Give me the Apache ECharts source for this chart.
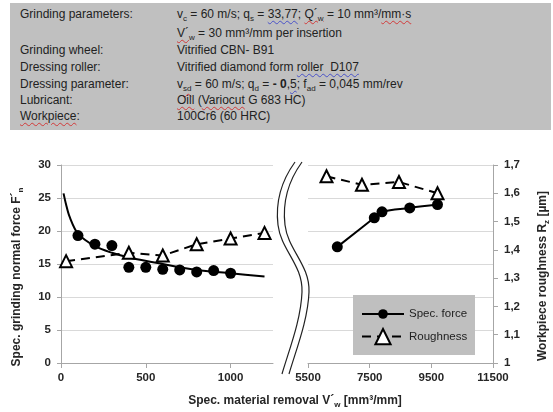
<!DOCTYPE html>
<html>
<head>
<meta charset="utf-8">
<script src="https://cdn.jsdelivr.net/npm/echarts@6/dist/echarts.min.js"></script>
<style>
  html, body { margin: 0; padding: 0; background: #fff; }
  #chart { position: absolute; left: 0; top: 0; width: 553px; height: 412px; }
  #params {
    position: absolute; left: 10px; top: 3px; width: 541px; height: 127px;
    background: #c0c0c0; z-index: 2;
    font-family: "Liberation Sans", Arial, sans-serif; font-size: 12px; color: #222;
  }
  .row { position: absolute; left: 0; width: 100%; height: 16px; line-height: 16px; white-space: pre; }
  .k { position: absolute; left: 10px; }
  .v { position: absolute; left: 167px; }
  sub { font-size: 8px; vertical-align: -3px; line-height: 0; }
  sup { font-size: 8px; vertical-align: 4px; line-height: 0; }
  .r { text-decoration: underline wavy #d23a3a; text-decoration-thickness: 1px; text-underline-offset: 2px; }
  .b { text-decoration: underline wavy #4a52c8; text-decoration-thickness: 1px; text-underline-offset: 2px; }
</style>
</head>
<body>
<div id="chart"></div>
<div id="params"></div>
<script>
// ---- process parameters (label, value) ----
const paramLabels = [
  'Grinding parameters:', '', 'Grinding wheel:', 'Dressing roller:',
  'Dressing parameter:', 'Lubricant:', '<span class="r">Workpiece</span>:'
];
const paramValues = [
  'v<sub>c</sub> = 60 m/s; q<sub>s</sub> = <span class="b">33,77</span>; <span class="r">Q´<sub>w</sub></span> = 10 mm³/<span class="r">mm·s</span>',
  '<span class="r">V´<sub>w</sub></span> = 30 mm³/mm per insertion',
  'Vitrified CBN- B91',
  'Vitrified diamond form <span class="b">roller  D107</span>',
  'v<sub class="r">sd</sub> = 60 m/s; q<sub>d</sub> = <b>- 0</b>,<span class="b">5</span>; f<sub>ad</sub> = 0,045 mm/rev',
  '<span class="r">Oill</span> (<span class="r">Variocut</span> G 683 HC)',
  '100Cr6 (60 HRC)'
];
const paramRowTops = [3, 21.5, 39, 56, 72.5, 88.5, 104.5];

// ---- axis ticks ----
const xTicksLeft = [0, 500, 1000];
const xTicksRight = [5500, 7500, 9500, 11500];

// ---- spec. grinding normal force F'n, first range (markers only) ----
const forceLeftX = [100, 200, 300, 400, 500, 600, 700, 800, 900, 1000];
const forceLeftY = [19.3, 18.0, 17.8, 14.5, 14.5, 14.2, 14.1, 13.8, 14.0, 13.6];

// ---- force trend curve, first range ----
const trendX = [15, 30, 50, 100, 200, 300, 400, 600, 800, 1000, 1200];
const trendY = [25.7, 24.0, 22.2, 19.6, 17.7, 16.7, 16.0, 15.0, 14.1, 13.6, 13.1];

// ---- force, second range ----
const forceRightX = [6450, 7650, 7900, 8800, 9700];
const forceRightY = [17.6, 22.0, 22.9, 23.5, 24.0];

// ---- workpiece roughness Rz ----
const roughLeftX = [30, 400, 600, 800, 1000, 1200];
const roughLeftY = [1.36, 1.39, 1.38, 1.42, 1.44, 1.46];
const roughRightX = [6100, 7250, 8450, 9700];
const roughRightY = [1.66, 1.63, 1.64, 1.60];

// parameter table
const params = document.getElementById('params');
paramLabels.forEach((lab, i) => {
  const row = document.createElement('div');
  row.className = 'row';
  row.style.top = paramRowTops[i] + 'px';
  row.innerHTML = '<span class="k">' + lab + '</span><span class="v">' + paramValues[i] + '</span>';
  params.appendChild(row);
});

const zip = (xs, ys) => xs.map((x, i) => [x, ys[i]]);

const FONT = '"Liberation Sans", Arial, sans-serif';
const AXIS_GREY = '#a6a6a6';
const GRID_GREY = '#d9d9d9';
const TEXT = '#262626';

const labelStyle = { fontFamily: FONT, fontSize: 11.5, fontWeight: 'bold', color: TEXT };
const subStyle = { fontFamily: FONT, fontSize: 8, fontWeight: 'bold', fill: TEXT, lineHeight: 8, verticalAlign: 'bottom' };
const plainNumber = v => String(v);

// one wavy break stroke made of three joined cubic segments, shifted by dx
function breakStroke(dx) {
  const segs = [
    [295, 162, 282, 180, 275, 200, 278, 225],
    [278, 225, 281, 250, 303, 265, 302, 292],
    [302, 292, 301, 320, 289, 350, 282, 374]
  ];
  return segs.map(s => ({
    type: 'bezierCurve', z: 3, silent: true,
    shape: {
      x1: s[0] + dx, y1: s[1], cpx1: s[2] + dx, cpy1: s[3],
      cpx2: s[4] + dx, cpy2: s[5], x2: s[6] + dx, y2: s[7]
    },
    style: { fill: null, stroke: '#222', lineWidth: 1.2 }
  }));
}

const chart = echarts.init(document.getElementById('chart'), null, { renderer: 'canvas' });

const option = {
  animation: false,
  backgroundColor: '#fff',
  grid: [
    { left: 61, top: 165, width: 212, height: 198 },
    { left: 308, top: 165, width: 185, height: 198 }
  ],
  xAxis: [
    {
      gridIndex: 0, type: 'value', min: 0, max: 1250,
      axisLine: { show: true, onZero: false, lineStyle: { color: AXIS_GREY } },
      axisTick: { show: true, customValues: xTicksLeft, length: 5, lineStyle: { color: AXIS_GREY } },
      axisLabel: Object.assign({ customValues: xTicksLeft, margin: 9, formatter: plainNumber }, labelStyle),
      splitLine: { show: false }
    },
    {
      gridIndex: 1, type: 'value', min: 5500, max: 11500,
      axisLine: { show: true, onZero: false, lineStyle: { color: AXIS_GREY } },
      axisTick: { show: true, customValues: xTicksRight, length: 5, lineStyle: { color: AXIS_GREY } },
      axisLabel: Object.assign({ customValues: xTicksRight, margin: 9, formatter: plainNumber }, labelStyle),
      splitLine: { show: false }
    }
  ],
  yAxis: [
    {
      gridIndex: 0, type: 'value', position: 'left', min: 0, max: 30, interval: 5,
      axisLine: { show: true, lineStyle: { color: AXIS_GREY } },
      axisTick: { show: true, length: 4, lineStyle: { color: AXIS_GREY } },
      axisLabel: Object.assign({ margin: 10 }, labelStyle),
      splitLine: { show: true, lineStyle: { color: GRID_GREY } }
    },
    {
      gridIndex: 0, type: 'value', position: 'right', min: 1, max: 1.7, interval: 0.1, show: false,
      splitLine: { show: false }
    },
    {
      gridIndex: 1, type: 'value', position: 'left', min: 0, max: 30, interval: 5,
      axisLine: { show: false }, axisTick: { show: false }, axisLabel: { show: false },
      splitLine: { show: true, lineStyle: { color: GRID_GREY } }
    },
    {
      gridIndex: 1, type: 'value', position: 'right', min: 1, max: 1.7, interval: 0.1,
      axisLine: { show: true, lineStyle: { color: AXIS_GREY } },
      axisTick: { show: true, length: 5, lineStyle: { color: AXIS_GREY } },
      axisLabel: Object.assign({
        margin: 11,
        formatter: v => String(Math.round(v * 10) / 10).replace('.', ',')
      }, labelStyle),
      splitLine: { show: false }
    }
  ],
  legend: [
    {
      data: ['Spec. force'], left: 361, top: 308, orient: 'vertical', padding: 0,
      itemWidth: 42, itemHeight: 12, selectedMode: false,
      textStyle: { fontFamily: FONT, fontSize: 11.5, color: '#222' }
    },
    {
      data: ['Roughness'], left: 361, top: 328, orient: 'vertical', padding: 0,
      itemWidth: 42, itemHeight: 19, selectedMode: false,
      textStyle: { fontFamily: FONT, fontSize: 11.5, color: '#222' }
    }
  ],
  graphic: [
    // legend panel
    { type: 'rect', shape: { x: 353, y: 295, width: 122, height: 60 }, style: { fill: '#bfbfbf' }, z: 3, silent: true },
    // axis break
    ...breakStroke(0),
    ...breakStroke(7),
    // axis titles
    {
      type: 'text', x: 17, y: 277, rotation: Math.PI / 2, z: 5,
      style: {
        text: 'Spec. grinding normal force F´{s|n}',
        font: 'bold 12px ' + FONT, fill: TEXT, align: 'center', verticalAlign: 'middle', lineHeight: 16,
        rich: { s: subStyle }
      }
    },
    {
      type: 'text', x: 543, y: 276, rotation: Math.PI / 2, z: 5,
      style: {
        text: 'Workpiece roughness R{s|z} [µm]',
        font: 'bold 12px ' + FONT, fill: TEXT, align: 'center', verticalAlign: 'middle', lineHeight: 16,
        rich: { s: subStyle }
      }
    },
    {
      type: 'text', x: 295, y: 401, z: 5,
      style: {
        text: 'Spec. material removal V´{s|w} [mm³/mm]',
        font: 'bold 12px ' + FONT, fill: TEXT, align: 'center', verticalAlign: 'middle', lineHeight: 16,
        rich: { s: subStyle }
      }
    }
  ],
  series: [
    {
      name: 'Force trend', type: 'line', xAxisIndex: 0, yAxisIndex: 0,
      data: zip(trendX, trendY), smooth: 0.3, showSymbol: false, symbol: 'none',
      lineStyle: { color: '#000', width: 2 }, silent: true
    },
    {
      name: 'Spec. force', type: 'line', xAxisIndex: 1, yAxisIndex: 2,
      data: zip(forceRightX, forceRightY), smooth: 0.4,
      symbol: 'circle', symbolSize: 11,
      itemStyle: { color: '#000' }, lineStyle: { color: '#000', width: 2 }
    },
    {
      name: 'Roughness', type: 'line', xAxisIndex: 1, yAxisIndex: 3,
      data: zip(roughRightX, roughRightY),
      symbol: 'triangle', symbolSize: 12,
      itemStyle: { color: '#fff', borderColor: '#000', borderWidth: 2 },
      lineStyle: { color: '#000', width: 2, type: [9, 6] }
    },
    {
      name: 'Spec. force', type: 'scatter', xAxisIndex: 0, yAxisIndex: 0,
      data: zip(forceLeftX, forceLeftY),
      symbol: 'circle', symbolSize: 11, itemStyle: { color: '#000', opacity: 1 }
    },
    {
      name: 'Roughness', type: 'line', xAxisIndex: 0, yAxisIndex: 1,
      data: zip(roughLeftX, roughLeftY),
      symbol: 'triangle', symbolSize: 12,
      itemStyle: { color: '#fff', borderColor: '#000', borderWidth: 2 },
      lineStyle: { color: '#000', width: 2, type: [9, 6] }
    }
  ]
};

chart.setOption(option);
</script>
</body>
</html>
